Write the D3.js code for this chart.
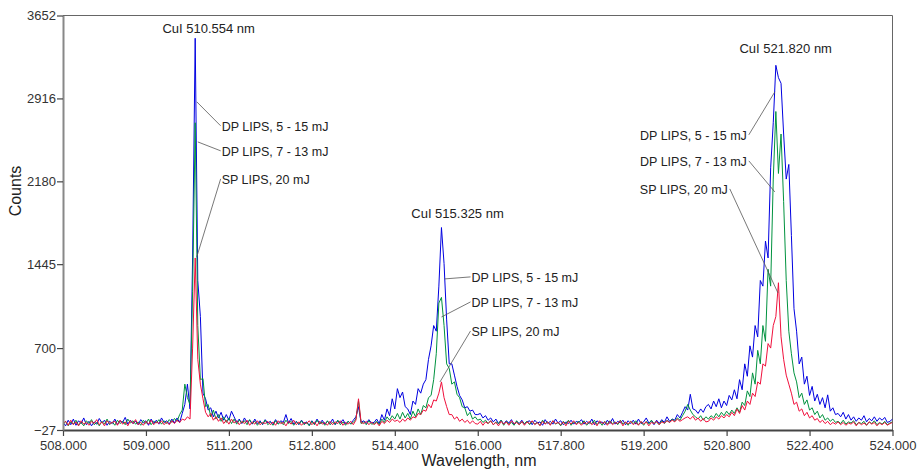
<!DOCTYPE html>
<html>
<head>
<meta charset="utf-8">
<script src="https://cdn.jsdelivr.net/npm/d3@7"></script>
<style>
  body { margin: 0; background: #fff; }
  svg { display: block; font-family: "Liberation Sans", Arial, sans-serif; }
  .tick text { fill: #333; font-size: 13px; }
  .tick line { stroke: #444; }
  .annot { fill: #222; font-size: 12.5px; }
  .peak { fill: #222; font-size: 13px; }
  .axisLabel { fill: #222; font-size: 16px; }
</style>
</head>
<body>
<svg id="chart" width="920" height="470"></svg>
<script>
// spectra sampled every 0.05 nm from 508.00 to 524.00 nm (321 points)
const WL_START = 508;
const WL_STEP = 0.05;

const seriesNames = ["DP LIPS, 5 - 15 mJ", "DP LIPS, 7 - 13 mJ", "SP LIPS, 20 mJ"];
const seriesColors = ["#0000e0", "#00923f", "#f0103c"];

const dp5_15 = [
  40, 10, 60, 20, 70, 15, 55, 30, 80, 20, 50, 10, 45, 25, 75, 35, 60, 15, 50, 30,
  70, 20, 55, 40, 85, 25, 60, 30, 50, 20, 65, 35, 55, 15, 70, 30, 60, 25, 80, 40,
  55, 25, 70, 35, 80, 40, 120, 200, 380, 160, 1500, 3450, 1300, 980, 300, 250, 150, 170, 90, 140,
  80, 130, 60, 110, 60, 140, 90, 40, 70, 30, 80, 40, 60, 25, 70, 30, 55, 20, 65, 35,
  50, 20, 65, 30, 55, 40, 110, 35, 75, 25, 50, 20, 60, 30, 45, 15, 55, 25, 70, 30,
  60, 25, 50, 30, 70, 20, 55, 35, 65, 25, 50, 30, 60, 90, 180, 40, 55, 30, 65, 35,
  40, 70, 30, 110, 60, 160, 100, 250, 160, 340, 260, 310, 180, 160, 110, 230, 200, 340, 300, 380,
  420, 600, 720, 900, 850, 1250, 1770, 1450, 950, 560, 560, 460, 360, 280, 240, 170, 180, 140, 150, 110,
  110, 120, 80, 100, 60, 80, 45, 70, 30, 60, 25, 55, 35, 65, 20, 50, 30, 60, 25, 45,
  55, 20, 60, 35, 45, 15, 65, 30, 50, 25, 70, 35, 55, 20, 45, 30, 60, 25, 50, 40,
  65, 25, 50, 30, 70, 20, 55, 35, 45, 20, 60, 30, 75, 25, 50, 35, 60, 20, 55, 30,
  60, 25, 70, 30, 45, 80, 35, 55, 20, 60, 30, 65, 40, 90, 50, 70, 60, 110, 80, 130,
  180, 150, 290, 160, 150, 120, 160, 130, 180, 200, 160, 230, 180, 250, 170, 230, 190, 280, 240,
  330, 250, 420, 330, 560, 450, 720, 620, 900, 800, 1300, 1250, 1650, 1500, 2300, 2700, 3210, 3100, 3050, 2600,
  2200, 2330, 1700, 1050, 850, 560, 620, 380, 450, 280, 360, 230, 290, 200, 260, 170, 285, 140, 170, 110,
  120, 90, 130, 70, 110, 60, 90, 50, 80, 60, 100, 45, 75, 55, 90, 50, 80, 60, 85, 40,
  50, 70
];

const dp7_13 = [
  20, 50, 10, 45, 25, 60, 15, 40, 10, 55, 30, 65, 20, 40, 10, 50, 25, 70, 20, 45,
  15, 60, 30, 50, 20, 70, 35, 55, 25, 45, 15, 60, 30, 70, 20, 50, 35, 65, 25, 55,
  30, 65, 40, 75, 50, 110, 150, 380, 260, 200, 1200, 2700, 900, 420, 430, 180, 200, 90, 150, 70,
  110, 50, 90, 40, 80, 30, 70, 25, 60, 35, 55, 20, 65, 30, 50, 15, 45, 25, 60, 20,
  40, 15, 55, 25, 45, 20, 60, 30, 50, 15, 45, 25, 55, 20, 40, 10, 50, 20, 60, 25,
  45, 15, 55, 20, 40, 25, 60, 20, 45, 15, 50, 25, 40, 70, 230, 30, 45, 20, 55, 25,
  30, 50, 20, 70, 40, 90, 60, 100, 70, 120, 70, 130, 80, 120, 70, 140, 90, 160, 110, 190,
  170, 260, 280, 420, 650, 1100, 1150, 900, 560, 520, 380, 400, 290, 260, 180, 170, 100, 130, 70, 90,
  60, 70, 40, 60, 30, 55, 20, 45, 30, 60, 15, 50, 25, 40, 15, 55, 20, 45, 30, 50,
  20, 50, 25, 40, 15, 60, 30, 45, 20, 55, 25, 40, 10, 50, 25, 60, 15, 45, 30, 50,
  25, 55, 15, 40, 30, 60, 20, 45, 15, 50, 25, 55, 30, 45, 20, 60, 25, 40, 15, 50,
  30, 55, 20, 45, 15, 50, 25, 60, 30, 45, 20, 55, 30, 60, 40, 70, 50, 80, 60, 100,
  140, 200, 150, 110, 90, 70, 100, 60, 90, 70, 100, 80, 120, 90, 130, 100, 140, 110, 150,
  120, 170, 130, 220, 190, 320, 270, 480, 380, 680, 560, 900, 760, 1400, 1250, 2200, 2800, 2250, 2600, 2000,
  1300, 850, 650, 480, 400, 260, 300, 200, 240, 150, 170, 110, 140, 80, 110, 60, 80, 50, 70, 40,
  50, 30, 60, 25, 45, 35, 55, 20, 40, 30, 50, 15, 45, 30, 55, 20, 40, 25, 50, 20,
  35, 45
];

const sp20 = [
  30, 50, 15, 60, 20, 45, 10, 55, 25, 40, 15, 50, 30, 65, 20, 45, 10, 55, 30, 40,
  50, 15, 60, 25, 45, 10, 55, 30, 65, 20, 40, 15, 50, 25, 60, 20, 45, 30, 55, 20,
  45, 20, 55, 30, 60, 40, 70, 60, 90, 70, 700, 1500, 600, 380, 250, 130, 90, 120, 60, 90,
  50, 80, 30, 60, 25, 70, 35, 55, 20, 50, 30, 60, 15, 45, 25, 55, 20, 40, 30, 50,
  20, 45, 15, 55, 30, 40, 10, 50, 25, 60, 20, 45, 15, 40, 30, 55, 20, 45, 10, 50,
  25, 40, 15, 50, 20, 45, 30, 55, 15, 40, 25, 50, 20, 60, 250, 40, 30, 50, 20, 45,
  20, 40, 10, 50, 30, 60, 40, 70, 50, 60, 40, 70, 50, 80, 60, 90, 80, 120, 110, 150,
  140, 200, 170, 240, 230, 300, 400, 260, 180, 110, 110, 70, 90, 50, 70, 40, 60, 30, 55, 30,
  25, 50, 15, 45, 30, 55, 20, 40, 10, 50, 25, 45, 15, 55, 30, 40, 20, 50, 15, 45,
  30, 55, 20, 40, 10, 50, 25, 45, 15, 55, 30, 40, 20, 45, 10, 50, 25, 55, 20, 40,
  15, 45, 25, 50, 20, 40, 10, 55, 30, 45, 15, 50, 20, 40, 30, 55, 10, 45, 25, 50,
  20, 40, 15, 50, 25, 45, 10, 40, 30, 50, 20, 45, 35, 55, 40, 60, 45, 70, 50, 65,
  80, 90, 70, 95, 60, 80, 50, 75, 45, 50, 80, 60, 90, 70, 100, 80, 110, 90, 130,
  100, 160, 120, 190, 150, 230, 200, 300, 270, 400, 380, 560, 540, 740, 700, 900, 980, 1280, 800, 600,
  460, 380, 300, 200, 220, 140, 160, 100, 130, 80, 100, 60, 75, 40, 60, 30, 50, 20, 40, 25,
  45, 20, 40, 15, 35, 25, 45, 10, 40, 20, 35, 15, 45, 25, 40, 10, 35, 20, 40, 15,
  30, 40
];

const xTickValues = [508, 509.6, 511.2, 512.8, 514.4, 516, 517.6, 519.2, 520.8, 522.4, 524];
const xTickLabels = ["508.000", "509.000", "511.200", "512.800", "514.400", "516.000",
                     "517.800", "519.200", "520.800", "522.400", "524.000"];
const yTickValues = [-27, 700, 1445, 2180, 2916, 3652];

// peak line labels: text, anchor wavelength, anchor counts
const peakLabels = ["CuI 510.554 nm", "CuI 515.325 nm", "CuI 521.820 nm"];
const peakLabelWl = [510.81, 515.61, 521.94];
const peakLabelCounts = [3498, 1856, 3321];

// series callouts per peak: label x (nm), anchor side, label counts, arrow tip (nm, counts)
const calloutLabelWl = [511.06, 515.88, 521.19];
const calloutAnchor = ["start", "start", "end"];
const calloutLabelCounts = [[2664, 2442, 2193], [1323, 1101, 843], [2584, 2353, 2104]];
const calloutTipWl = [[510.58, 510.60, 510.58], [515.36, 515.30, 515.27], [521.73, 521.73, 521.79]];
const calloutTipCounts = [[2886, 2530, 1509], [1314, 976, 399], [2974, 2086, 1190]];

const svg = d3.select("#chart");
const plotLeft = 63, plotRight = 892.5, plotTop = 15.5, plotBottom = 430;

const x = d3.scaleLinear().domain([508, 524]).range([plotLeft, plotRight]);
const y = d3.scaleLinear().domain([-27, 3652]).range([plotBottom, plotTop]);

svg.append("rect").attr("width", 920).attr("height", 470).attr("fill", "#fff");

svg.append("defs").append("clipPath").attr("id", "plotClip")
  .append("rect")
  .attr("x", plotLeft).attr("y", plotTop)
  .attr("width", plotRight - plotLeft).attr("height", plotBottom - plotTop);

// frame (top and right)
svg.append("path")
  .attr("d", `M${plotLeft},${plotTop}H${plotRight}V${plotBottom}`)
  .attr("fill", "none")
  .attr("stroke", "#666")
  .attr("stroke-width", 1);

const line = d3.line()
  .x((d, i) => x(WL_START + i * WL_STEP))
  .y(d => y(d));

const plot = svg.append("g").attr("clip-path", "url(#plotClip)");
[dp5_15, dp7_13, sp20].forEach((vals, k) => {
  plot.append("path")
    .datum(vals)
    .attr("fill", "none")
    .attr("stroke", seriesColors[k])
    .attr("stroke-width", 1)
    .attr("stroke-linejoin", "round")
    .attr("d", line);
});

// axes
const xAxis = d3.axisBottom(x)
  .tickValues(xTickValues)
  .tickFormat((d, i) => xTickLabels[i])
  .tickSize(6)
  .tickSizeOuter(0)
  .tickPadding(5);
const gx = svg.append("g")
  .attr("transform", `translate(0,${plotBottom})`)
  .call(xAxis);
gx.select(".domain").attr("stroke", "#444").attr("stroke-width", 2);
gx.selectAll(".tick line").attr("stroke-width", 1.2);
gx.selectAll(".tick text").attr("font-family", null).attr("font-size", null);

const yAxis = d3.axisLeft(y)
  .tickValues(yTickValues)
  .tickFormat(d3.format("d"))
  .tickSize(6)
  .tickSizeOuter(0)
  .tickPadding(1);
const gy = svg.append("g")
  .attr("transform", `translate(${plotLeft},0)`)
  .call(yAxis);
gy.select(".domain").attr("stroke", "#888").attr("stroke-width", 2);
gy.selectAll(".tick line").attr("stroke-width", 1.2);
gy.selectAll(".tick text").attr("font-family", null).attr("font-size", null);

// axis titles
svg.append("text")
  .attr("class", "axisLabel")
  .attr("transform", `translate(21,191) rotate(-90)`)
  .attr("text-anchor", "middle")
  .text("Counts");

svg.append("text")
  .attr("class", "axisLabel")
  .attr("x", 479)
  .attr("y", 466)
  .attr("text-anchor", "middle")
  .text("Wavelength, nm");

// peak labels
peakLabels.forEach((t, i) => {
  svg.append("text")
    .attr("class", "peak")
    .attr("x", x(peakLabelWl[i]))
    .attr("y", y(peakLabelCounts[i]))
    .attr("text-anchor", "middle")
    .text(t);
});

// callouts
calloutLabelWl.forEach((wl, g) => {
  const anchor = calloutAnchor[g];
  seriesNames.forEach((name, k) => {
    const lx = x(wl);
    const ly = y(calloutLabelCounts[g][k]);
    // SP label on the right group is shorter, its end sits further left
    const endX = (anchor === "end" && k === 2) ? lx - 19 : lx;
    const sx = anchor === "start" ? lx - 1 : endX + 2;
    svg.append("line")
      .attr("x1", sx).attr("y1", ly - 1)
      .attr("x2", x(calloutTipWl[g][k])).attr("y2", y(calloutTipCounts[g][k]))
      .attr("stroke", "#555")
      .attr("stroke-width", 0.8);
    svg.append("text")
      .attr("class", "annot")
      .attr("x", anchor === "start" ? lx : endX)
      .attr("y", ly)
      .attr("dy", "0.35em")
      .attr("text-anchor", anchor)
      .text(name);
  });
});

if (dp5_15.length !== 321 || dp7_13.length !== 321 || sp20.length !== 321) {
  console.error("length mismatch", dp5_15.length, dp7_13.length, sp20.length);
}
</script>
</body>
</html>
